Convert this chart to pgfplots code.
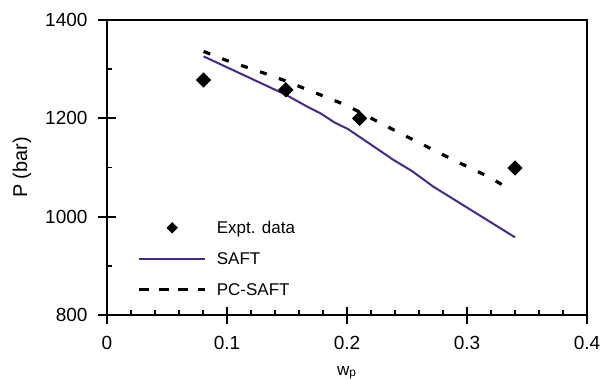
\documentclass[border=0pt]{standalone}
\usepackage{pgfplots}
\pgfplotsset{compat=1.18}
\usepackage{fontspec}
\setmainfont{Liberation Sans}
\definecolor{saftpurple}{RGB}{72,40,140}
\begin{document}
\begin{tikzpicture}
\begin{axis}[
  at={(0,0)}, anchor=south west,
  scale only axis, width=240bp, height=147.5bp,
  xmin=0, xmax=0.4, ymin=800, ymax=1400,
  xtick={0,0.1,0.2,0.3,0.4}, xticklabels={0,0.1,0.2,0.3,0.4},
  ytick={800,1000,1200,1400}, yticklabels={800,1000,1200,1400},
  minor x tick num=4, minor y tick num=1,
  tick align=center,
  major tick length=8.5bp, minor tick length=2.5bp,
  every minor x tick/.append style={yshift=1.25bp},
  every minor y tick/.append style={xshift=1.25bp},
  xtick pos=bottom, ytick pos=left,
  axis line style={line width=1bp},
  every tick/.append style={line width=0.9bp, black},
  tick label style={font=\fontsize{9.5bp}{11bp}\selectfont},
  xticklabel style={yshift=-3bp},
  yticklabel style={xshift=-2bp},
  label style={font=\fontsize{8.5bp}{10bp}\selectfont},
  xlabel={w\textsubscript{p}},
  xlabel style={at={(axis description cs:0.5,0)}, anchor=base, yshift=-30bp},
  ylabel={P (bar)},
  every axis y label/.style={at={(axis description cs:-0.177,0.5)}, anchor=center, rotate=90},
  legend style={draw=none, fill=none, at={(rel axis cs:0.063,0.05)}, anchor=south west,
    inner sep=0pt, row sep=6.5bp, column sep=5bp, font=\fontsize{8.5bp}{10bp}\selectfont,
    nodes={inner sep=0pt, text height=7bp, text depth=2bp, anchor=base west}},
  legend cell align=left,
]
\addplot[only marks, mark=square*, mark size=2.5bp, mark options={rotate=45}, black,
  legend image code/.code={\draw[black, fill=black] plot[mark=square*, mark size=1.8bp, mark options={rotate=45}] coordinates {(16.5bp,3bp)};}]
  coordinates {(0.0805,1278) (0.149,1258) (0.2105,1200) (0.340,1099)};
\addlegendentry{Expt. data}
\addplot[saftpurple, line width=1bp, no marks,
  legend image code/.code={\draw[saftpurple, line width=1bp] (0bp,3bp) -- (33bp,3bp);}]
  coordinates {(0.0805,1326) (0.149,1248) (0.1667,1224) (0.178,1210) (0.190,1191) (0.201,1178)
   (0.2167,1152) (0.239,1115) (0.254,1093) (0.272,1061) (0.340,958)};
\addlegendentry{SAFT}
\addplot[black, line width=1.6bp, no marks, dash pattern=on 3.5bp off 6.5bp,
  legend image code/.code={\draw[black, line width=1.6bp, dash pattern=on 5bp off 4.8bp] (0bp,3bp) -- (33bp,3bp);}]
  coordinates {(0.0805,1336) (0.0994,1318) (0.115,1305) (0.132,1291) (0.149,1276) (0.2,1226) (0.229,1189)
   (0.244,1170) (0.289,1115) (0.319,1080) (0.336,1055)};
\addlegendentry{PC-SAFT}
\end{axis}
\pgfresetboundingbox
\path[use as bounding box] (-53.5bp,-32.5bp) rectangle (247.5bp,157.5bp);
\end{tikzpicture}
\end{document}
